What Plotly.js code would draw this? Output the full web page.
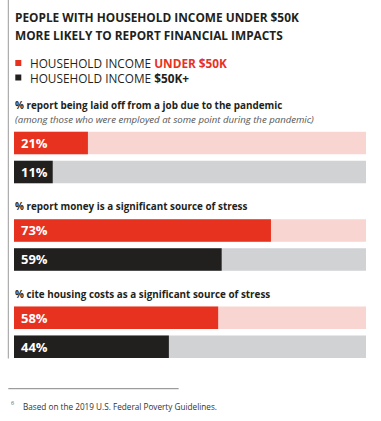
<!DOCTYPE html>
<html><head><meta charset="utf-8">
<script src="https://cdn.plot.ly/plotly-3.0.1.min.js"></script>
<style>html,body{margin:0;padding:0;background:#fff;}#chart{width:381px;height:421px;}</style>
</head><body><div id="chart"></div>
<script>
const groups = ["Under $50K", "$50K+"];
const questions = [
  "% report being laid off from a job due to the pandemic",
  "% report money is a significant source of stress",
  "% cite housing costs as a significant source of stress"
];
const questionNote = "(among those who were employed at some point during the pandemic)";
const under50k = [21, 73, 58];
const over50k = [11, 59, 44];
const fullScale = [100, 100, 100];
const chartTitle = ["PEOPLE WITH HOUSEHOLD INCOME UNDER $50K", "MORE LIKELY TO REPORT FINANCIAL IMPACTS"];
const legendLabels = ["HOUSEHOLD INCOME <b>UNDER $50K</b>", "HOUSEHOLD INCOME <b>$50K+</b>"];
const footnote = "Based on the 2019 U.S. Federal Poverty Guidelines.";

const W = 381, H = 421;
const L = 13.7, PW = 352.3;
const RED = "#e7321f", RED_LIGHT = "#f9d5d2", BLACK = "#221f1f", GRAY = "#d1d2d4";
const FONT = "Open Sans, sans-serif";
const py = p => 1 - p / H;
const pxX = p => (p - L) / PW;

const domPx = [[128.4, 186.4], [215.9, 273.9], [303.3, 361.3]];
const qTitleY = [105, 206, 294];

const traces = [];
const layout = {
  width: W, height: H,
  margin: {l: L, r: W - L - PW, t: 0, b: 0},
  paper_bgcolor: "#fff", plot_bgcolor: "#fff",
  showlegend: false,
  barmode: "overlay",
  font: {family: FONT},
  annotations: [], shapes: []
};

questions.forEach((q, i) => {
  const n = i === 0 ? "" : String(i + 1);
  const xa = "x" + n, ya = "y" + n;
  traces.push({type: "bar", orientation: "h", x: [fullScale[i], fullScale[i]], y: groups,
    marker: {color: [RED_LIGHT, GRAY], line: {width: 0}}, width: 0.776,
    xaxis: xa, yaxis: ya, hoverinfo: "skip"});
  traces.push({type: "bar", orientation: "h", x: [under50k[i], over50k[i]], y: groups,
    marker: {color: [RED, BLACK], line: {width: 0}}, width: 0.776,
    xaxis: xa, yaxis: ya, hoverinfo: "skip"});
  layout["xaxis" + n] = {range: [0, 100], visible: false, fixedrange: true, anchor: ya};
  layout["yaxis" + n] = {domain: [py(domPx[i][1]), py(domPx[i][0])], type: "category",
    categoryorder: "array", categoryarray: groups, autorange: "reversed",
    visible: false, fixedrange: true, anchor: xa};
  [under50k[i], over50k[i]].forEach((v, j) => {
    layout.annotations.push({xref: xa, yref: ya, x: 0, y: groups[j], xshift: 4.5,
      xanchor: "left", yanchor: "middle", showarrow: false, text: "<b>" + v + "%</b>",
      font: {family: FONT, size: 13, color: "#fff"}});
  });
  layout.annotations.push({xref: "paper", yref: "paper", x: pxX(13), y: py(qTitleY[i]),
    xanchor: "left", yanchor: "middle", showarrow: false, text: "<b>" + q + "</b>",
    font: {family: FONT, size: 9.9, color: "#231f20"}});
});

layout.annotations.push({xref: "paper", yref: "paper", x: pxX(13), y: py(119),
  xanchor: "left", yanchor: "middle", showarrow: false, text: "<i>" + questionNote + "</i>",
  font: {family: FONT, size: 9.6, color: "#555"}});

chartTitle.forEach((t, i) => {
  layout.annotations.push({xref: "paper", yref: "paper", x: pxX(13), y: py(17 + i * 18),
    xanchor: "left", yanchor: "middle", showarrow: false, text: "<b>" + t + "</b>",
    font: {family: FONT, size: 11.85, color: "#231f20"}});
});

legendLabels.forEach((t, i) => {
  layout.annotations.push({xref: "paper", yref: "paper", x: pxX(27.5), y: py(63 + i * 14.5),
    xanchor: "left", yanchor: "middle", showarrow: false,
    text: i === 0 ? t.replace("<b>", "<b><span style='color:" + RED + "'>").replace("</b>", "</span></b>") : t,
    font: {family: FONT, size: 11.8, color: "#231f20"}});
});

layout.annotations.push({xref: "paper", yref: "paper", x: pxX(20.5), y: py(406.5),
  xanchor: "left", yanchor: "middle", showarrow: false, text: footnote,
  font: {family: FONT, size: 8.2, color: "#333"}});
layout.annotations.push({xref: "paper", yref: "paper", x: pxX(8.5), y: py(403),
  xanchor: "left", yanchor: "middle", showarrow: false, text: "6",
  font: {family: FONT, size: 5.5, color: "#555"}});

layout.shapes.push({type: "line", xref: "paper", yref: "paper", x0: pxX(8), x1: pxX(8), y0: py(0), y1: py(358.5),
  line: {color: "#9a9a9a", width: 1}});
layout.shapes.push({type: "line", xref: "paper", yref: "paper", x0: pxX(8), x1: pxX(178.5), y0: py(388.7), y1: py(388.7),
  line: {color: "#666", width: 0.8}});
layout.shapes.push({type: "rect", xref: "paper", yref: "paper", x0: pxX(15), x1: pxX(21), y0: py(66), y1: py(60),
  fillcolor: RED, line: {width: 0}});
layout.shapes.push({type: "rect", xref: "paper", yref: "paper", x0: pxX(15), x1: pxX(21), y0: py(80.5), y1: py(74.5),
  fillcolor: BLACK, line: {width: 0}});

Plotly.newPlot("chart", traces, layout, {displayModeBar: false, staticPlot: true});
</script></body></html>
